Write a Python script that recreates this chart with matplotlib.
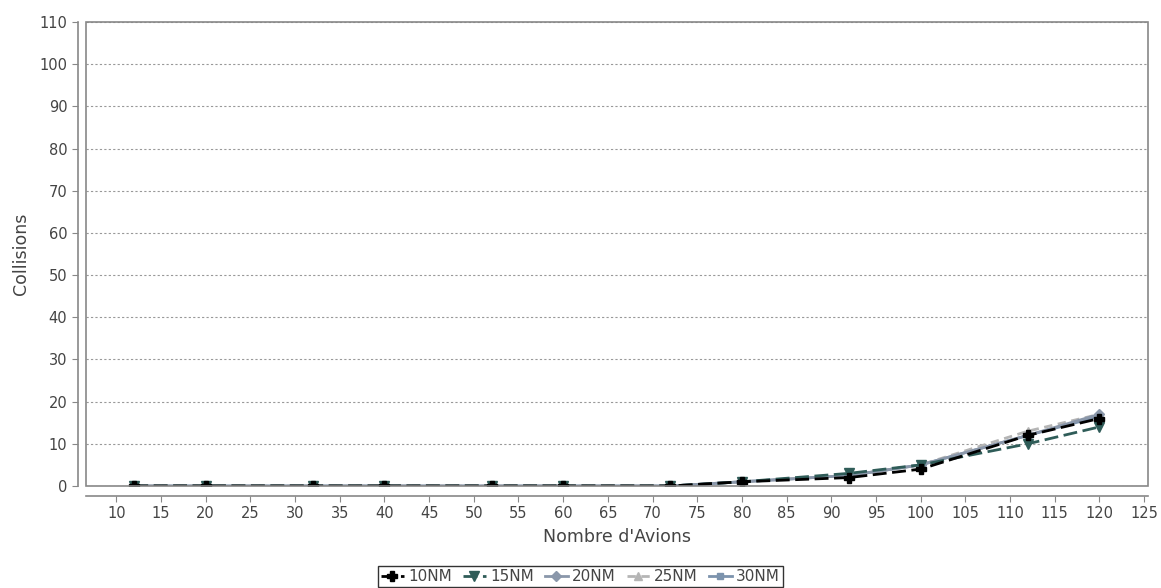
import matplotlib.pyplot as plt
from matplotlib.patches import Rectangle

# Number of aircraft (x) and collisions per separation distance
avions = [12, 20, 32, 40, 52, 60, 72, 80, 92, 100, 112, 120]
col_10nm = [0, 0, 0, 0, 0, 0, 0, 1, 2, 4, 12, 16]
col_15nm = [0, 0, 0, 0, 0, 0, 0, 1, 3, 5, 10, 14]
col_20nm = [0, 0, 0, 0, 0, 0, 0, 1, 2.5, 5, 12, 17]
col_25nm = [0, 0, 0, 0, 0, 0, 0, 1, 2.5, 5, 13, 17]
col_30nm = [0, 0, 0, 0, 0, 0, 0, 1, 2.5, 5, 12, 16.5]

labels = ['10NM', '15NM', '20NM', '25NM', '30NM']
series = [col_10nm, col_15nm, col_20nm, col_25nm, col_30nm]
colors = ['#000000', '#2f5c58', '#8a97aa', '#b5b5b5', '#7c93ad']
markers = ['P', 'v', 'D', '^', 's']
msizes = [7, 7, 5, 6, 5]
styles = [(0, (5, 2)), (0, (5, 2)), '-', (0, (3, 2)), '-']

fig = plt.figure(figsize=(11.61, 5.88), dpi=100)
ax = fig.add_axes([86 / 1161, 1 - 486 / 588, (1148 - 86) / 1161, (486 - 22) / 588])

# draw light series first so dark lines sit on top
for i in [4, 3, 2, 1, 0]:
    ax.plot(avions, series[i], color=colors[i], linestyle=styles[i], linewidth=2,
            marker=markers[i], markersize=msizes[i], label=labels[i])

ax.set_xlim(6.6, 125.45)
ax.set_ylim(0, 110)
ax.set_xticks(range(10, 126, 5))
ax.set_yticks(range(0, 111, 10))

ax.yaxis.grid(True, color='#999999', linestyle=(0, (2, 2)), linewidth=0.8)
ax.set_axisbelow(True)

# plot outline plus offset axis lines (JFreeChart look)
for s in ['top', 'right']:
    ax.spines[s].set_visible(False)
ax.spines['left'].set_position(('outward', 6))
ax.spines['bottom'].set_position(('outward', 7))
for s in ['left', 'bottom']:
    ax.spines[s].set_color('#888888')
    ax.spines[s].set_linewidth(1.2)
ax.add_patch(Rectangle((0, 0), 1, 1, transform=ax.transAxes, fill=False,
                       edgecolor='#888888', linewidth=1.2, zorder=5, clip_on=False))

ax.tick_params(colors='#888888', labelcolor='#444444', labelsize=10.5, length=4)

ax.set_xlabel("Nombre d'Avions", fontsize=12.5, color='#444444', labelpad=5)
ax.set_ylabel('Collisions', fontsize=12.5, color='#444444', labelpad=7)

h, l = ax.get_legend_handles_labels()
leg = fig.legend(h[::-1], l[::-1], loc='lower center', bbox_to_anchor=(0.5, 0.0), ncol=5,
                 fontsize=11, frameon=True, fancybox=False, handlelength=1.5,
                 handletextpad=0.3, columnspacing=0.7, borderpad=0.2, borderaxespad=0.05)
leg.get_frame().set_edgecolor('black')
leg.get_frame().set_linewidth(1.0)
for t in leg.get_texts():
    t.set_color('#444444')

fig.savefig('out.png', dpi=100)
